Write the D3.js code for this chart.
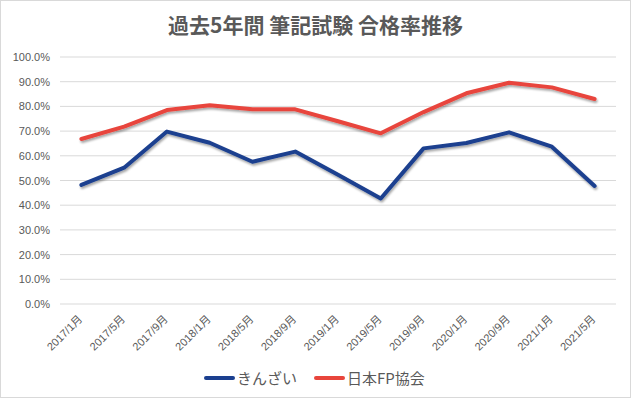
<!DOCTYPE html>
<html>
<head>
<meta charset="utf-8">
<script src="https://cdn.jsdelivr.net/npm/d3@7"></script>
<style>
  body { margin: 0; background: #fff; }
  text { font-family: "Noto Sans CJK JP", "Liberation Sans", sans-serif; }
</style>
</head>
<body>
<div id="chart"></div>
<script>
const categories = ["2017/1月", "2017/5月", "2017/9月", "2018/1月", "2018/5月", "2018/9月", "2019/1月",
  "2019/5月", "2019/9月", "2020/1月", "2020/9月", "2021/1月", "2021/5月"];
const kinzai = [48.2, 55.2, 69.8, 65.3, 57.6, 61.7, 52.3, 42.7, 63.0, 65.2, 69.5, 63.7, 47.8];
const fpkyokai = [66.8, 71.8, 78.5, 80.5, 78.8, 78.8, 74.0, 69.1, 77.7, 85.3, 89.6, 87.7, 83.0];
const yTicks = [0, 10, 20, 30, 40, 50, 60, 70, 80, 90, 100];
const seriesList = [
  {name: "きんざい", values: kinzai, color: "#1b3f8f"},
  {name: "日本FP協会", values: fpkyokai, color: "#e8453c"}
];

const W = 631, H = 399;
const margin = {top: 57, right: 15, bottom: 95, left: 60};
const width = W - margin.left - margin.right,
  height = H - margin.top - margin.bottom;

const svg = d3.select("#chart").append("svg")
  .attr("width", W).attr("height", H);

// drop shadow like the spreadsheet lines
const defs = svg.append("defs");
const f = defs.append("filter").attr("id", "shadow")
  .attr("x", "-5%").attr("y", "-20%").attr("width", "110%").attr("height", "140%");
f.append("feDropShadow").attr("dx", 1).attr("dy", 2).attr("stdDeviation", 1.2)
  .attr("flood-color", "#000").attr("flood-opacity", 0.35);

svg.append("rect").attr("x", 0.5).attr("y", 0.5).attr("width", W - 1).attr("height", H - 2)
  .attr("fill", "#fff").attr("stroke", "#d9d9d9");

svg.append("text")
  .attr("x", W / 2).attr("y", 33)
  .attr("text-anchor", "middle")
  .style("font-size", "21px").style("font-weight", "bold").style("fill", "#595959")
  .text("過去5年間 筆記試験 合格率推移");

const g = svg.append("g").attr("transform", `translate(${margin.left},${margin.top})`);

const x = d3.scaleBand().domain(categories).range([0, width]);
const y = d3.scaleLinear().domain([0, 100]).range([height, 0]);

// grid
g.append("g").selectAll("line").data(yTicks).enter().append("line")
  .attr("x1", 0).attr("x2", width)
  .attr("y1", d => y(d)).attr("y2", d => y(d))
  .attr("stroke", "#d9d9d9").attr("stroke-width", 1);

const yAxis = g.append("g")
  .call(d3.axisLeft(y).tickValues(yTicks).tickSize(0).tickPadding(10).tickFormat(d => d.toFixed(1) + "%"));
yAxis.select(".domain").remove();
yAxis.selectAll("text").style("font-size", "11px").style("fill", "#595959")
  .style("font-family", "'Liberation Sans', sans-serif");

const xAxis = g.append("g").attr("transform", `translate(0,${height})`)
  .call(d3.axisBottom(x).tickSize(0));
xAxis.select(".domain").remove();
xAxis.selectAll("text")
  .style("font-size", "11px").style("fill", "#595959")
  .style("font-family", "'Liberation Sans', 'Noto Sans CJK JP', sans-serif")
  .attr("text-anchor", "end")
  .attr("x", 0).attr("y", 0)
  .attr("dy", "0.35em")
  .attr("transform", "translate(-1,13) rotate(-45)");

const line = d3.line()
  .x((d, i) => x(categories[i]) + x.bandwidth() / 2)
  .y(d => y(d));

seriesList.forEach(s => {
  g.append("path").datum(s.values)
    .attr("d", line)
    .attr("fill", "none")
    .attr("stroke", s.color)
    .attr("stroke-width", 4)
    .attr("stroke-linejoin", "round")
    .attr("stroke-linecap", "round")
    .attr("filter", "url(#shadow)");
});

// legend
const legend = svg.append("g").attr("transform", "translate(206,378)");
const lx = [0, 110];
seriesList.forEach((s, i) => {
  const it = legend.append("g").attr("transform", `translate(${lx[i]},0)`);
  it.append("line").attr("x1", 0).attr("x2", 27).attr("y1", 0).attr("y2", 0)
    .attr("stroke", s.color).attr("stroke-width", 4).attr("stroke-linecap", "round");
  it.append("text").attr("x", 31).attr("y", 5.5)
    .style("font-size", "15px").style("fill", "#595959").text(s.name);
});
</script>
</body>
</html>
